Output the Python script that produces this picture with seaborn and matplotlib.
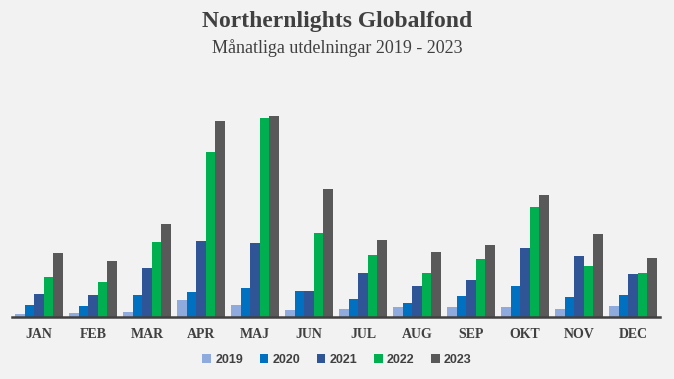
import numpy as np
import pandas as pd
import matplotlib.pyplot as plt
import seaborn as sns

# monthly payouts per year (relative units)
months = ["JAN", "FEB", "MAR", "APR", "MAJ", "JUN", "JUL", "AUG", "SEP", "OKT", "NOV", "DEC"]
years = ["2019", "2020", "2021", "2022", "2023"]
v2019 = [3.3, 4.3, 5.3, 17.3, 12.3, 7.3, 8.3, 10.3, 10.3, 10.3, 8.3, 11.3]
v2020 = [12.3, 11.3, 22.3, 25.3, 29.3, 26.3, 18.3, 14.3, 21.3, 31.3, 20.3, 22.3]
v2021 = [23.3, 22.3, 49.3, 76.3, 74.3, 26.3, 44.3, 31.3, 37.3, 69.3, 61.3, 43.3]
v2022 = [40.3, 35.3, 75.3, 165.3, 199.3, 84.3, 62.3, 44.3, 58.3, 110.3, 51.3, 44.3]
v2023 = [64.3, 56.3, 93.3, 196.3, 201.3, 128.3, 77.3, 65.3, 72.3, 122.3, 83.3, 59.3]
colors = ["#8faadc", "#0070c0", "#2f5597", "#00b050", "#595959"]

series = [v2019, v2020, v2021, v2022, v2023]
df = pd.DataFrame({
    "month": np.tile(months, len(years)),
    "year": np.repeat(years, len(months)),
    "value": np.concatenate(series),
})

sns.set_style("white")
bg = "#f2f2f2"
txt = "#404040"

fig = plt.figure(figsize=(6.74, 3.79), dpi=100, facecolor=bg)
ax = fig.add_axes([12 / 674, 62 / 379, 648 / 674, 242 / 379], facecolor=bg)

sns.barplot(data=df, x="month", y="value", hue="year", order=months, hue_order=years,
            palette=colors, width=0.89, gap=0, saturation=1, linewidth=0, ax=ax)

ax.set_ylim(0, 242)
ax.set_xlim(-0.5, 11.5)
ax.set_xlabel("")
ax.set_ylabel("")
ax.set_yticks([])
for s in ["top", "right", "left"]:
    ax.spines[s].set_visible(False)
ax.spines["bottom"].set_color(txt)
ax.spines["bottom"].set_linewidth(1.8)
ax.tick_params(axis="x", length=0, pad=8)
for lab in ax.get_xticklabels():
    lab.set_fontfamily("Liberation Serif")
    lab.set_fontweight("bold")
    lab.set_fontsize(10)
    lab.set_color(txt)

handles, labels = ax.get_legend_handles_labels()
ax.get_legend().remove()
fig.legend(handles, labels, loc="center", bbox_to_anchor=(0.5, 19 / 379), ncol=5,
           frameon=False, handlelength=0.7, handleheight=0.7, handletextpad=0.35,
           columnspacing=1.3, prop={"family": "Liberation Sans", "weight": "bold", "size": 9},
           labelcolor=txt)

fig.text(0.5, 1 - 22 / 379, "Northernlights Globalfond", ha="center", va="center",
         fontfamily="Liberation Serif", fontweight="bold", fontsize=17, color=txt)
fig.text(0.5, 1 - 48 / 379, "Månatliga utdelningar 2019 - 2023", ha="center", va="center",
         fontfamily="Liberation Serif", fontsize=13, color=txt)

fig.savefig("out.png", dpi=100, facecolor=bg)
